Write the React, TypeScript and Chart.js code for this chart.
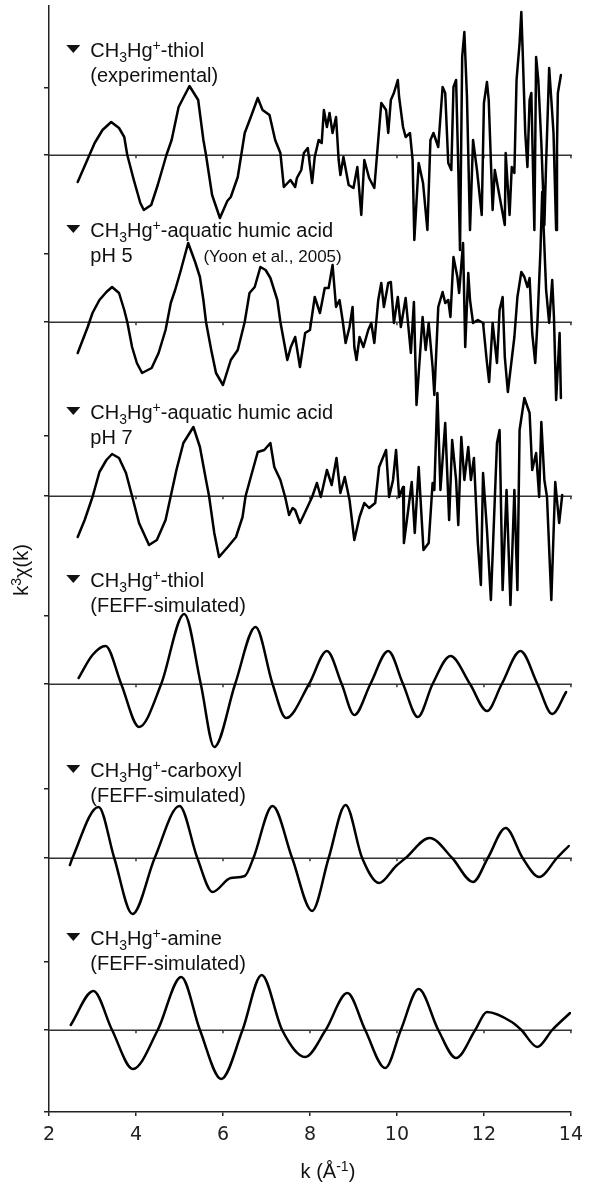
import React, { useEffect, useRef } from 'react';
import { Chart, registerables } from 'chart.js';

Chart.register(...registerables);

// ---------- axis / layout values ----------
const K_MIN = 2;
const K_MAX = 14;
const xTickValues = [2, 4, 6, 8, 10, 12, 14];
const Y_MIN = 0;
const Y_MAX = 110.6;
// vertical offsets (zero lines) of the stacked spectra, top to bottom
const offsets = [95.7, 79.0, 61.6, 42.8, 25.4, 8.2];
const yTickValues = [0, 8.2, 15.0, 25.4, 32.3, 42.8, 49.6, 61.6, 67.6, 79.0, 85.8, 95.7, 102.4];

// ---------- labels ----------
const seriesLigand = ['-thiol', '-aquatic humic acid', '-aquatic humic acid', '-thiol', '-carboxyl', '-amine'];
const seriesNote = ['(experimental)', 'pH 5', 'pH 7', '(FEFF-simulated)', '(FEFF-simulated)', '(FEFF-simulated)'];
const labelY = [105.5, 87.5, 69.3, 52.5, 33.5, 16.7];
const LABEL_K = 2.95;
const citation = '(Yoon et al., 2005)';
const CITATION_K = 5.55;
const xTitle = ['k (Å', '-1', ')'];
const yTitle = ['k', '3', 'χ(k)'];

// ---------- data: [k, k^3 chi(k)] ----------
const thiolExperimental: [number, number][] = [
  [2.66, -2.7], [2.93, 0], [3.05, 1.2], [3.23, 2.5], [3.43, 3.3], [3.61, 2.7], [3.73, 1.8], [3.8, 0],
  [3.95, -2.5], [4.1, -4.8], [4.18, -5.5], [4.35, -5.0], [4.5, -3.0], [4.7, 0], [4.82, 1.5], [4.98, 4.8],
  [5.23, 6.9], [5.43, 5.5], [5.55, 1.5], [5.61, 0], [5.75, -4.0], [5.93, -6.3], [6.1, -4.6], [6.18, -4.2],
  [6.34, -2.2], [6.5, 2.2], [6.64, 3.8], [6.8, 5.7], [6.91, 4.5], [7.07, 4.0], [7.2, 1.5], [7.32, 0.2],
  [7.4, -3.2], [7.55, -2.5], [7.66, -3.2], [7.7, -2.3], [7.8, -1.5], [7.86, 0.2], [7.95, 0.7], [8.05, -2.8],
  [8.11, -0.2], [8.2, 1.5], [8.27, 1.2], [8.32, 4.5], [8.39, 2.8], [8.45, 4.2], [8.52, 2.2], [8.6, 3.8],
  [8.66, -0.5], [8.7, -2.0], [8.77, -0.2], [8.89, -3.0], [9.0, -3.3], [9.09, -1.2], [9.18, -6.0], [9.25, -0.5],
  [9.36, -2.3], [9.48, -3.3], [9.57, 1.5], [9.64, 5.2], [9.75, 4.5], [9.8, 2.2], [9.86, 5.5], [9.93, 6.2],
  [10.02, 7.5], [10.05, 5.8], [10.14, 2.8], [10.2, 1.8], [10.3, 2.2], [10.36, -0.5], [10.4, -8.5], [10.5, -0.8],
  [10.6, -2.8], [10.7, -7.5], [10.77, 1.5], [10.84, 2.2], [10.95, 0.8], [11.05, 6.8], [11.11, 6.2], [11.18, -0.8],
  [11.25, -1.5], [11.3, 6.8], [11.36, 7.5], [11.41, -1.2], [11.45, -9.5], [11.5, 9.8], [11.55, 12.3], [11.61, 5.8],
  [11.68, -7.5], [11.75, 1.5], [11.84, -1.5], [11.95, -6.0], [12.0, 5.2], [12.07, 7.3], [12.11, 5.5], [12.2, -5.5],
  [12.25, -1.5], [12.32, -3.2], [12.48, -7.0], [12.5, 0.2], [12.59, -6.0], [12.64, -1.2], [12.7, -1.8], [12.75, 7.5],
  [12.82, 11.2], [12.86, 14.3], [12.89, 10.5], [12.95, 2.2], [13.0, -1.2], [13.05, 5.5], [13.09, 6.2], [13.16, -7.5],
  [13.2, 9.8], [13.25, 7.5], [13.32, 1.2], [13.39, -7.0], [13.43, -0.8], [13.5, 8.7], [13.55, 5.5], [13.6, 2.2],
  [13.66, -7.5], [13.68, 0.8], [13.7, 6.2], [13.77, 8.0],
];

const humicPH5: [number, number][] = [
  [2.66, -3.1], [2.89, -0.5], [3.0, 0.9], [3.16, 2.2], [3.32, 3.0], [3.45, 3.5], [3.61, 2.9], [3.73, 1.2],
  [3.8, 0], [3.91, -2.5], [4.02, -4.1], [4.14, -5.1], [4.36, -4.6], [4.52, -3.1], [4.68, -0.8], [4.8, 1.9],
  [4.9, 3.2], [5.02, 5.0], [5.2, 7.9], [5.36, 6.0], [5.47, 4.5], [5.55, 2.2], [5.61, 0], [5.73, -2.8],
  [5.84, -5.1], [6.0, -6.3], [6.18, -3.8], [6.34, -2.8], [6.5, 0], [6.61, 2.9], [6.73, 3.5], [6.86, 5.5],
  [6.98, 5.2], [7.09, 4.4], [7.25, 2.2], [7.32, 0], [7.48, -3.8], [7.56, -2.5], [7.66, -1.5], [7.77, -4.5],
  [7.89, -1.1], [8.0, -0.8], [8.11, 2.5], [8.23, 0.9], [8.34, 3.4], [8.43, 3.4], [8.52, 5.7], [8.6, 1.5],
  [8.68, 2.2], [8.75, 0.2], [8.82, -2.1], [8.91, -0.5], [8.98, 1.5], [9.02, -2.5], [9.07, -3.8], [9.14, -1.5],
  [9.23, -2.5], [9.34, -0.8], [9.41, -0.1], [9.48, -2.1], [9.57, 2.2], [9.64, 3.9], [9.7, 1.5], [9.8, 3.9],
  [9.86, 4.0], [9.93, -0.1], [10.02, 2.5], [10.09, -0.5], [10.2, 2.4], [10.32, -3.1], [10.39, 2.0], [10.45, -8.3],
  [10.59, 0.5], [10.66, -2.8], [10.73, -0.1], [10.82, -4.5], [10.86, -7.3], [10.95, 1.5], [11.05, 3.0], [11.11, 1.9],
  [11.18, 2.2], [11.23, 0.5], [11.3, 6.5], [11.39, 4.5], [11.43, 2.9], [11.52, 7.9], [11.57, -2.5], [11.64, 4.9],
  [11.68, 2.2], [11.75, -0.1], [11.86, 0.2], [11.98, -0.1], [12.07, -4.1], [12.12, -6.0], [12.2, -0.1], [12.3, -4.1],
  [12.36, 1.2], [12.43, 2.5], [12.48, -3.5], [12.55, -7.0], [12.7, -1.5], [12.77, 2.5], [12.86, 5.0], [12.93, 4.5],
  [13.0, 3.5], [13.05, 4.4], [13.11, -1.1], [13.18, -4.1], [13.23, -0.1], [13.3, 7.2], [13.34, 13.0], [13.43, 3.2],
  [13.5, -0.1], [13.57, 4.2], [13.61, 0.5], [13.66, -7.8], [13.74, -1.1], [13.77, -7.6],
];

const humicPH7: [number, number][] = [
  [2.66, -4.1], [2.82, -2.4], [3.0, -0.1], [3.16, 2.4], [3.32, 3.6], [3.45, 4.2], [3.61, 3.8], [3.77, 2.3],
  [3.91, 0], [4.07, -2.7], [4.3, -4.9], [4.48, -4.4], [4.68, -2.4], [4.8, 0], [4.93, 2.6], [5.09, 5.3],
  [5.32, 6.9], [5.47, 4.9], [5.61, 1.6], [5.68, 0], [5.8, -3.7], [5.91, -6.1], [6.11, -5.1], [6.3, -4.1],
  [6.45, -2.1], [6.52, 0], [6.64, 1.9], [6.8, 4.4], [6.95, 4.6], [7.09, 5.3], [7.18, 2.9], [7.32, 1.6],
  [7.43, -0.1], [7.52, -1.9], [7.6, -1.2], [7.66, -1.4], [7.77, -2.7], [7.89, -1.6], [8.05, -0.1], [8.16, 1.3],
  [8.25, -0.1], [8.39, 2.6], [8.5, 1.1], [8.61, 3.8], [8.7, 0.3], [8.8, 1.9], [8.91, -0.4], [9.02, -4.4],
  [9.14, -2.1], [9.25, -0.7], [9.36, -1.2], [9.5, -0.7], [9.59, 2.9], [9.75, 4.6], [9.82, -0.1], [9.91, 1.6],
  [9.98, 4.6], [10.05, -0.1], [10.14, 0.9], [10.16, -4.7], [10.25, -1.7], [10.34, 1.4], [10.41, -3.7], [10.5, 2.9],
  [10.61, -5.4], [10.73, -4.7], [10.82, 1.3], [10.86, 0.6], [10.93, 10.3], [11.0, 0.6], [11.11, 7.3], [11.2, -2.4],
  [11.27, 5.6], [11.36, 1.6], [11.41, -2.9], [11.48, 5.9], [11.55, 1.6], [11.64, 4.9], [11.7, 1.6], [11.77, 3.8],
  [11.86, -4.7], [11.93, -8.9], [11.98, 2.3], [12.07, -3.4], [12.16, -10.4], [12.3, 5.3], [12.36, 6.6], [12.43, -9.4],
  [12.52, 0.6], [12.61, -10.9], [12.7, 0.6], [12.77, -9.4], [12.82, 6.6], [12.93, 9.8], [13.05, 8.3], [13.11, 2.6],
  [13.2, 4.3], [13.27, -0.1], [13.32, 7.4], [13.39, 1.6], [13.45, -0.1], [13.55, -10.4], [13.64, 1.4], [13.73, -2.7],
  [13.8, 0.1],
];

const thiolFEFF: [number, number][] = [
  [2.68, 0.6], [3.0, 2.9], [3.3, 3.8], [3.66, 0], [4.07, -4.3], [4.58, 0], [5.11, 7.0], [5.49, 0],
  [5.8, -6.3], [6.28, 0], [6.75, 5.7], [7.14, 0], [7.45, -3.4], [7.98, 0], [8.39, 3.3], [8.73, 0],
  [9.02, -3.1], [9.39, 0], [9.8, 3.3], [10.14, 0], [10.48, -3.3], [10.82, 0], [11.23, 2.8], [11.68, 0],
  [12.07, -2.7], [12.41, 0], [12.84, 3.3], [13.23, 0], [13.57, -3.0], [13.89, -0.8],
];

const carboxylFEFF: [number, number][] = [
  [2.48, -0.7], [2.54, 0], [3.14, 5.1], [3.5, 0], [3.92, -5.6], [4.43, 0], [5.0, 5.2], [5.41, 0],
  [5.76, -3.4], [6.18, -2.0], [6.5, -1.8], [6.7, 0], [7.14, 5.2], [7.59, 0], [8.05, -5.3], [8.43, 0],
  [8.82, 5.3], [9.2, 0], [9.59, -2.5], [9.98, -0.8], [10.2, 0], [10.75, 2.0], [11.27, 0], [11.75, -2.4],
  [12.09, 0], [12.5, 3.0], [12.89, 0], [13.27, -1.9], [13.68, 0], [13.95, 1.2],
];

const amineFEFF: [number, number][] = [
  [2.5, 0.5], [3.02, 3.9], [3.45, 0], [3.93, -3.9], [4.5, 0], [5.04, 5.3], [5.47, 0], [5.96, -4.9],
  [6.45, 0], [6.89, 5.5], [7.36, 0], [7.89, -2.7], [8.36, 0], [8.86, 3.7], [9.27, 0], [9.73, -3.8],
  [10.09, 0], [10.5, 4.1], [10.95, 0], [11.36, -2.8], [11.8, 0], [12.07, 1.8], [12.64, 0.8], [12.86, 0],
  [13.23, -1.7], [13.57, 0], [13.98, 1.7],
];

const allSeries = [thiolExperimental, humicPH5, humicPH7, thiolFEFF, carboxylFEFF, amineFEFF];
const smoothSeries = [false, false, false, true, true, true];

const TEXT_FONT = '"Liberation Sans", Arial, sans-serif';
const TICK_FONT = '"DejaVu Sans", Verdana, sans-serif';

type Part = { t: string; k: 'n' | 'sub' | 'sup' };

function drawRich(ctx: CanvasRenderingContext2D, x: number, y: number, parts: Part[], size: number) {
  let cx = x;
  for (const p of parts) {
    const s = p.k === 'n' ? size : Math.round(size * 0.68);
    const dy = p.k === 'sub' ? size * 0.24 : p.k === 'sup' ? -size * 0.36 : 0;
    ctx.font = `${s}px ${TEXT_FONT}`;
    ctx.fillText(p.t, cx, y + dy);
    cx += ctx.measureText(p.t).width;
  }
  return cx - x;
}

function richWidth(ctx: CanvasRenderingContext2D, parts: Part[], size: number) {
  let w = 0;
  for (const p of parts) {
    const s = p.k === 'n' ? size : Math.round(size * 0.68);
    ctx.font = `${s}px ${TEXT_FONT}`;
    w += ctx.measureText(p.t).width;
  }
  return w;
}

const decorPlugin = {
  id: 'decor',
  beforeDatasetsDraw(chart: any) {
    const { ctx, scales } = chart;
    const xs = scales.x;
    const ys = scales.y;
    ctx.save();
    ctx.strokeStyle = '#333';
    ctx.lineWidth = 1.5;
    for (const off of offsets) {
      const py = Math.round(ys.getPixelForValue(off)) + 0.25;
      ctx.beginPath();
      ctx.moveTo(xs.getPixelForValue(K_MIN), py);
      ctx.lineTo(xs.getPixelForValue(K_MAX) + 1, py);
      ctx.stroke();
      for (const t of xTickValues) {
        if (t === K_MIN) continue;
        const px = xs.getPixelForValue(t);
        ctx.beginPath();
        ctx.moveTo(px, py);
        ctx.lineTo(px, py + 3);
        ctx.stroke();
      }
    }
    ctx.restore();
  },
  afterDatasetsDraw(chart: any) {
    const { ctx, scales, chartArea } = chart;
    const xs = scales.x;
    const ys = scales.y;
    ctx.save();
    ctx.fillStyle = '#111';
    ctx.textBaseline = 'alphabetic';
    ctx.textAlign = 'left';
    const lx = xs.getPixelForValue(LABEL_K);
    labelY.forEach((v, i) => {
      const py = ys.getPixelForValue(v);
      // marker triangle
      ctx.beginPath();
      ctx.moveTo(lx - 24, py - 12);
      ctx.lineTo(lx - 10, py - 12);
      ctx.lineTo(lx - 17, py - 4);
      ctx.closePath();
      ctx.fill();
      drawRich(ctx, lx, py, [
        { t: 'CH', k: 'n' }, { t: '3', k: 'sub' }, { t: 'Hg', k: 'n' }, { t: '+', k: 'sup' }, { t: seriesLigand[i], k: 'n' },
      ], 20);
      drawRich(ctx, lx, py + 25, [{ t: seriesNote[i], k: 'n' }], 20);
      if (i === 1) {
        ctx.font = `17px ${TEXT_FONT}`;
        ctx.fillText(citation, xs.getPixelForValue(CITATION_K), py + 25);
      }
    });
    // x title
    const xParts: Part[] = [{ t: xTitle[0], k: 'n' }, { t: xTitle[1], k: 'sup' }, { t: xTitle[2], k: 'n' }];
    const xw = richWidth(ctx, xParts, 20);
    drawRich(ctx, (chartArea.left + chartArea.right) / 2 + 18 - xw / 2, 1178, xParts, 20);
    // y title
    const yParts: Part[] = [{ t: yTitle[0], k: 'n' }, { t: yTitle[1], k: 'sup' }, { t: yTitle[2], k: 'n' }];
    const yw = richWidth(ctx, yParts, 20);
    ctx.translate(28, 570);
    ctx.rotate(-Math.PI / 2);
    drawRich(ctx, -yw / 2, 0, yParts, 20);
    ctx.restore();
  },
};

export default function App() {
  const canvasRef = useRef<HTMLCanvasElement | null>(null);

  useEffect(() => {
    const canvas = canvasRef.current;
    if (!canvas) return;
    const datasets = allSeries.map((s, i) => ({
      data: s.map(([k, v]) => ({ x: k, y: offsets[i] + v })),
      borderColor: '#000',
      borderWidth: 2.5,
      pointRadius: 0,
      fill: false,
      tension: smoothSeries[i] ? 0.4 : 0,
      cubicInterpolationMode: smoothSeries[i] ? ('monotone' as const) : ('default' as const),
      borderJoinStyle: 'round' as const,
      borderCapStyle: 'round' as const,
    }));
    const chart = new Chart(canvas, {
      type: 'line',
      data: { datasets },
      options: {
        animation: false,
        responsive: false,
        maintainAspectRatio: false,
        layout: { padding: { left: 0, top: 6, right: 14, bottom: 0 } },
        plugins: { legend: { display: false }, tooltip: { enabled: false } },
        scales: {
          x: {
            type: 'linear',
            min: K_MIN,
            max: K_MAX,
            afterBuildTicks: (s: any) => { s.ticks = xTickValues.map((v) => ({ value: v })); },
            afterFit: (s: any) => { s.height = 73; },
            grid: { drawOnChartArea: false, drawTicks: true, tickLength: 4, color: '#222', lineWidth: 1.5 },
            border: { display: true, color: '#222', width: 1.5 },
            ticks: {
              font: { family: TICK_FONT, size: 19 },
              color: '#222',
              padding: 8,
              maxRotation: 0,
              autoSkip: false,
            },
          },
          y: {
            type: 'linear',
            min: Y_MIN,
            max: Y_MAX,
            afterBuildTicks: (s: any) => { s.ticks = yTickValues.map((v) => ({ value: v })); },
            afterFit: (s: any) => { s.width = 49; },
            grid: { drawOnChartArea: false, drawTicks: true, tickLength: 5, color: '#222', lineWidth: 1.5 },
            border: { display: true, color: '#222', width: 1.5 },
            ticks: { display: false },
          },
        },
      },
      plugins: [decorPlugin],
    });
    return () => chart.destroy();
  }, []);

  return (
    <div style={{ position: 'fixed', left: 0, top: 0, width: 591, height: 1185, background: '#fff' }}>
      <canvas ref={canvasRef} width={591} height={1185} style={{ width: 591, height: 1185 }} />
    </div>
  );
}
